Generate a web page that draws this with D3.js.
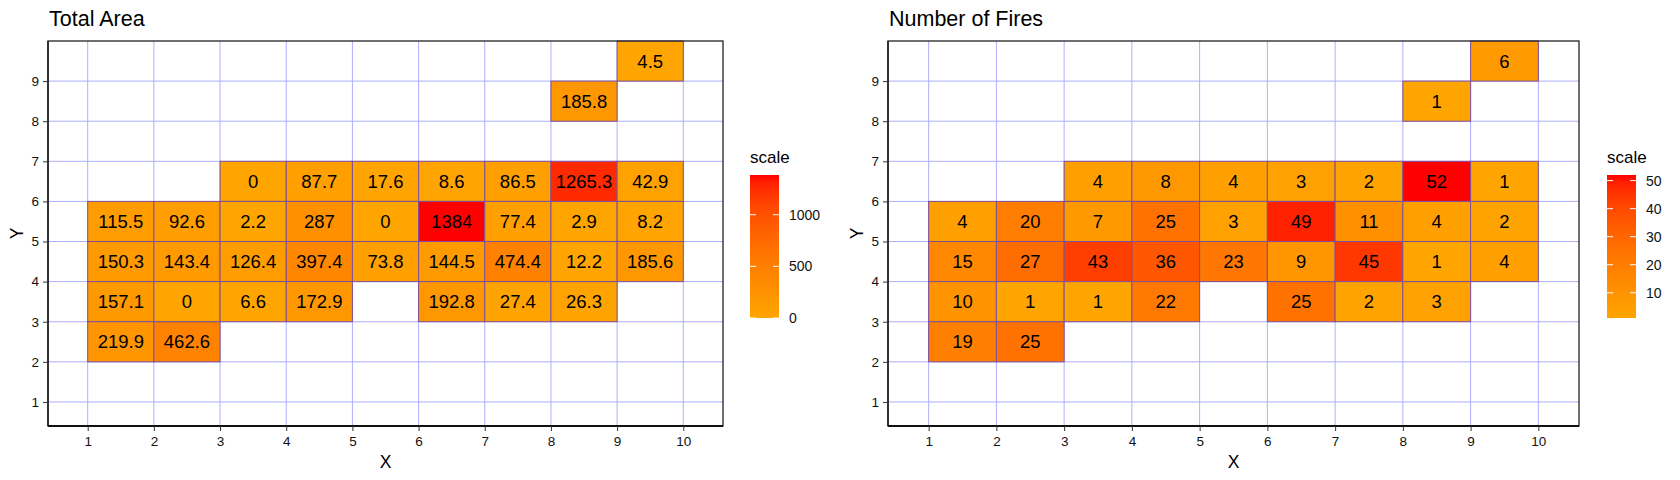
<!DOCTYPE html>
<html>
<head>
<meta charset="utf-8">
<script src="https://cdn.jsdelivr.net/npm/d3@7"></script>
<style>
  html, body { margin: 0; padding: 0; background: #fff; }
  svg { display: block; font-family: "Liberation Sans", Arial, sans-serif; }
</style>
</head>
<body>
<svg id="chart" width="1680" height="480"></svg>
<script>
// ---- data ----
const cellX = [9, 8, 3, 4, 5, 6, 7, 8, 9, 1, 2, 3, 4, 5, 6, 7, 8, 9, 1, 2, 3, 4, 5, 6, 7, 8, 9, 1, 2, 3, 4, 6, 7, 8, 1, 2];
const cellY = [9, 8, 6, 6, 6, 6, 6, 6, 6, 5, 5, 5, 5, 5, 5, 5, 5, 5, 4, 4, 4, 4, 4, 4, 4, 4, 4, 3, 3, 3, 3, 3, 3, 3, 2, 2];
const totalArea = [4.5, 185.8, 0, 87.7, 17.6, 8.6, 86.5, 1265.3, 42.9,
  115.5, 92.6, 2.2, 287, 0, 1384, 77.4, 2.9, 8.2,
  150.3, 143.4, 126.4, 397.4, 73.8, 144.5, 474.4, 12.2, 185.6,
  157.1, 0, 6.6, 172.9, 192.8, 27.4, 26.3,
  219.9, 462.6];
const numFires = [6, 1, 4, 8, 4, 3, 2, 52, 1,
  4, 20, 7, 25, 3, 49, 11, 4, 2,
  15, 27, 43, 36, 23, 9, 45, 1, 4,
  10, 1, 1, 22, 25, 2, 3,
  19, 25];
const xTicks = [1, 2, 3, 4, 5, 6, 7, 8, 9, 10];
const yTicks = [1, 2, 3, 4, 5, 6, 7, 8, 9];
const areaLegendTicks = [0, 500, 1000];
const firesLegendTicks = [10, 20, 30, 40, 50];
const titles = ["Total Area", "Number of Fires"];

// ---- layout ----
const svg = d3.select("#chart");
const plotTop = 41, plotBottom = 426;
const panels = [
  { title: titles[0], values: totalArea, left: 48, right: 723, legendX: 750, legendTicks: areaLegendTicks },
  { title: titles[1], values: numFires, left: 888, right: 1579, legendX: 1607, legendTicks: firesLegendTicks }
];
const gridColor = "#aeaeff";
const tileStroke = "#7e4f9c";

panels.forEach(p => {
  const g = svg.append("g");
  const x = d3.scaleLinear().domain([0.4, 10.6]).range([p.left, p.right]);
  const y = d3.scaleLinear().domain([0.4, 10]).range([plotBottom, plotTop]);
  const ext = d3.extent(p.values);
  const color = d3.scaleLinear().domain(ext).range(["#FFA500", "#FF0000"]).interpolate(d3.interpolateLab);

  g.append("rect").attr("x", p.left).attr("y", plotTop)
    .attr("width", p.right - p.left).attr("height", plotBottom - plotTop).attr("fill", "#fff");

  // grid
  g.selectAll(".gx").data(xTicks).join("line")
    .attr("x1", d => x(d)).attr("x2", d => x(d)).attr("y1", plotTop).attr("y2", plotBottom)
    .attr("stroke", gridColor).attr("stroke-width", 1);
  g.selectAll(".gy").data(yTicks).join("line")
    .attr("y1", d => y(d)).attr("y2", d => y(d)).attr("x1", p.left).attr("x2", p.right)
    .attr("stroke", gridColor).attr("stroke-width", 1);

  // tiles
  const cells = p.values.map((v, i) => ({ x: cellX[i], y: cellY[i], v }));
  g.selectAll(".tile").data(cells).join("rect")
    .attr("x", d => x(d.x)).attr("y", d => y(d.y + 1))
    .attr("width", d => x(d.x + 1) - x(d.x)).attr("height", d => y(d.y) - y(d.y + 1))
    .attr("fill", d => color(d.v)).attr("stroke", tileStroke).attr("stroke-width", 1);
  g.selectAll(".lbl").data(cells).join("text")
    .attr("x", d => (x(d.x) + x(d.x + 1)) / 2).attr("y", d => (y(d.y) + y(d.y + 1)) / 2)
    .attr("text-anchor", "middle").attr("dominant-baseline", "central")
    .attr("font-size", 18.5).attr("fill", "#000").text(d => d.v);

  // panel border
  g.append("rect").attr("x", p.left).attr("y", plotTop)
    .attr("width", p.right - p.left).attr("height", plotBottom - plotTop)
    .attr("fill", "none").attr("stroke", "#222").attr("stroke-width", 1.3);
  g.append("line").attr("x1", p.left).attr("x2", p.right).attr("y1", plotBottom).attr("y2", plotBottom)
    .attr("stroke", "#111").attr("stroke-width", 2);
  g.append("line").attr("x1", p.left).attr("x2", p.left).attr("y1", plotTop).attr("y2", plotBottom)
    .attr("stroke", "#222").attr("stroke-width", 1.6);

  // axes
  const xAxis = g.append("g").attr("transform", `translate(0,${plotBottom})`)
    .call(d3.axisBottom(x).tickValues(xTicks).tickSize(5).tickPadding(5).tickFormat(d3.format("d")));
  const yAxis = g.append("g").attr("transform", `translate(${p.left},0)`)
    .call(d3.axisLeft(y).tickValues(yTicks).tickSize(5).tickPadding(4).tickFormat(d3.format("d")));
  [xAxis, yAxis].forEach(a => {
    a.select(".domain").remove();
    a.selectAll(".tick line").attr("stroke", "#333").attr("stroke-width", 1);
    a.selectAll(".tick text").attr("font-size", 13.5).attr("fill", "#111")
      .attr("font-family", "Liberation Sans, Arial, sans-serif");
  });

  // titles
  g.append("text").attr("x", p.left + 1).attr("y", 26).attr("font-size", 21.5).attr("fill", "#000").text(p.title);
  g.append("text").attr("x", (p.left + p.right) / 2).attr("y", 468).attr("text-anchor", "middle")
    .attr("font-size", 17.5).attr("fill", "#000").text("X");
  g.append("text").attr("transform", `translate(${p.left - 25},${(plotTop + plotBottom) / 2}) rotate(-90)`)
    .attr("text-anchor", "middle").attr("font-size", 17.5).attr("fill", "#000").text("Y");

  // legend
  const barTop = 175, barBottom = 318, barW = 29;
  const ly = d3.scaleLinear().domain(ext).range([barBottom, barTop]);
  const gradId = "grad" + p.left;
  const grad = svg.append("defs").append("linearGradient").attr("id", gradId)
    .attr("x1", 0).attr("y1", 1).attr("x2", 0).attr("y2", 0);
  d3.range(0, 1.0001, 0.05).forEach(t => {
    grad.append("stop").attr("offset", t).attr("stop-color", color(ext[0] + t * (ext[1] - ext[0])));
  });
  g.append("text").attr("x", p.legendX).attr("y", 163).attr("font-size", 17).attr("fill", "#000").text("scale");
  g.append("rect").attr("x", p.legendX).attr("y", barTop).attr("width", barW)
    .attr("height", barBottom - barTop).attr("fill", `url(#${gradId})`);
  p.legendTicks.forEach(t => {
    const yy = ly(t);
    g.append("line").attr("x1", p.legendX).attr("x2", p.legendX + 6).attr("y1", yy).attr("y2", yy)
      .attr("stroke", "#fff").attr("stroke-width", 1);
    g.append("line").attr("x1", p.legendX + barW - 6).attr("x2", p.legendX + barW).attr("y1", yy).attr("y2", yy)
      .attr("stroke", "#fff").attr("stroke-width", 1);
    g.append("text").attr("x", p.legendX + barW + 10).attr("y", yy).attr("dominant-baseline", "central")
      .attr("font-size", 14).attr("fill", "#111").text(t);
  });
});
</script>
</body>
</html>
